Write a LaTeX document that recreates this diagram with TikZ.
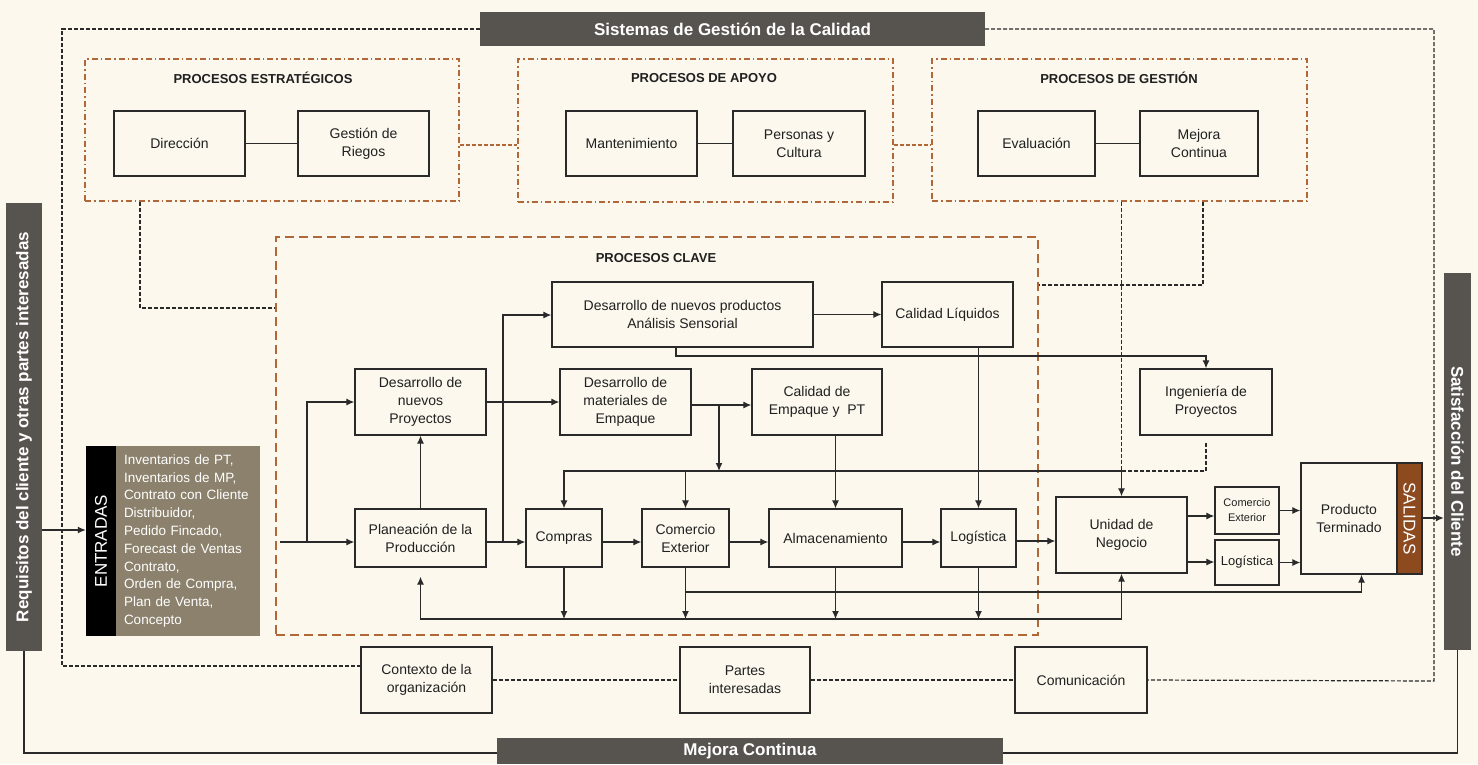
\documentclass[tikz,border=0pt]{standalone}
\usepackage{fontspec}
\setmainfont{Liberation Sans}
\usetikzlibrary{arrows.meta,calc}

\definecolor{fondo}{HTML}{FCF8EE}
\definecolor{barra}{HTML}{575450}
\definecolor{taupe}{HTML}{8B816C}
\definecolor{salida}{HTML}{8C4A1E}
\definecolor{naranja}{HTML}{B06838}
\definecolor{linea}{HTML}{2A2A2A}
\definecolor{texto}{HTML}{202020}

\begin{document}
\begin{tikzpicture}[x=1pt,y=-1pt]
	\tikzstyle{caja}=[draw=linea,line width=1.3pt,align=center,text=texto,inner sep=1pt,font=\fontsize{14}{18}\selectfont]
	\tikzstyle{barra}=[fill=barra,text=white,inner sep=0pt,font=\bfseries\fontsize{17}{20}\selectfont]
	\tikzstyle{marco}=[draw=naranja,line width=1.3pt,dash pattern=on 6pt off 3pt on 1.5pt off 3pt,inner sep=0pt]
	\tikzstyle{encabezado}=[text=texto,font=\bfseries\fontsize{13}{16}\selectfont]
	\tikzstyle{flecha}=[draw=linea,line width=1.2pt,-{Latex[length=8pt,width=7pt]}]
	\tikzstyle{solida}=[draw=linea,line width=1.2pt]
	\tikzstyle{punteado}=[draw=linea,line width=1.2pt,dash pattern=on 4pt off 2pt]
	\tikzstyle{enlace}=[draw=naranja,line width=1.3pt,dash pattern=on 4pt off 2pt]
	\path[use as bounding box,fill=fondo] (0,0) rectangle (1478,764);

	% barras del sistema
	\node[barra,minimum width=505pt,minimum height=34pt] (sgc) at (732.5,29) {Sistemas de Gestión de la Calidad};
	\node[barra,minimum width=36pt,minimum height=448pt] (req) at (24,427) {\rotatebox{90}{Requisitos del cliente y otras partes interesadas}};
	\node[barra,minimum width=27pt,minimum height=377pt] (sat) at (1457.5,461.5) {\rotatebox{-90}{Satisfacción del Cliente}};
	\node[barra,minimum width=506pt,minimum height=26pt] (mej) at (750,751) {Mejora Continua};

	% marcos
	\node[marco,minimum width=374pt,minimum height=142pt] (fest) at (272,130) {};
	\node[marco,minimum width=375pt,minimum height=143pt] (fapo) at (705.5,130.5) {};
	\node[marco,minimum width=375pt,minimum height=142pt] (fges) at (1119.5,130) {};
	\node[draw=naranja,line width=1.4pt,dash pattern=on 9pt off 5pt,minimum width=762pt,minimum height=398pt] (fcla) at (657,436) {};
	\node[encabezado] (test) at (263,78) {PROCESOS ESTRATÉGICOS};
	\node[encabezado] (tapo) at (704,78) {PROCESOS DE APOYO};
	\node[encabezado] (tges) at (1119,78) {PROCESOS DE GESTIÓN};
	\node[encabezado] (tcla) at (656,258) {PROCESOS CLAVE};

	% procesos estrategicos, de apoyo y de gestion
	\node[caja,minimum width=131pt,minimum height=65pt] (dir) at (179.5,143.5) {Dirección};
	\node[caja,minimum width=131pt,minimum height=65pt] (ries) at (363.5,143.5) {Gestión de\\Riegos};
	\node[caja,minimum width=131pt,minimum height=65pt] (man) at (631.5,143.5) {Mantenimiento};
	\node[caja,minimum width=132pt,minimum height=65pt] (per) at (799,143.5) {Personas y\\Cultura};
	\node[caja,minimum width=117pt,minimum height=65pt] (eva) at (1036.5,143.5) {Evaluación};
	\node[caja,minimum width=118pt,minimum height=65pt] (mcon) at (1199,143.5) {Mejora\\Continua};

	% procesos clave
	\node[caja,minimum width=261pt,minimum height=65pt] (dnp) at (682.5,314.5) {Desarrollo de nuevos productos\\Análisis Sensorial};
	\node[caja,minimum width=131pt,minimum height=65pt] (cliq) at (947.5,314.5) {Calidad Líquidos};
	\node[caja,minimum width=131pt,minimum height=66pt] (dnpy) at (420.5,402) {Desarrollo de\\nuevos\\Proyectos};
	\node[caja,minimum width=131pt,minimum height=66pt] (dme) at (625.5,402) {Desarrollo de\\materiales de\\Empaque};
	\node[caja,minimum width=130pt,minimum height=66pt] (cemp) at (817,402) {Calidad de\\Empaque y\ \ PT};
	\node[caja,minimum width=132pt,minimum height=66pt] (ing) at (1206,402) {Ingeniería de\\Proyectos};
	\node[caja,minimum width=131pt,minimum height=58pt] (plan) at (420.5,538) {Planeación de la\\Producción};
	\node[caja,minimum width=76pt,minimum height=58pt] (comp) at (564,538) {Compras};
	\node[caja,minimum width=87pt,minimum height=58pt] (cext) at (685.5,538) {Comercio\\Exterior};
	\node[caja,minimum width=133pt,minimum height=58pt] (alm) at (835.5,538) {Almacenamiento};
	\node[caja,minimum width=75pt,minimum height=58pt] (log) at (978.5,538) {Logística};
	\node[caja,minimum width=131pt,minimum height=76pt] (uni) at (1121.5,535) {Unidad de\\Negocio};
	\node[caja,minimum width=64pt,minimum height=47pt,font=\fontsize{11}{15}\selectfont] (cx2) at (1247,510.5) {Comercio\\Exterior};
	\node[caja,minimum width=64pt,minimum height=45pt,font=\fontsize{13}{16}\selectfont] (lg2) at (1247,562.5) {Logística};
	\node[caja,minimum width=96pt,minimum height=111pt] (pt) at (1349,518.5) {Producto\\Terminado};
	\node[draw=linea,line width=1.3pt,fill=salida,text=white,inner sep=0pt,minimum width=25pt,minimum height=111pt,font=\fontsize{17}{20}\selectfont] (sal) at (1409.5,518.5) {\rotatebox{-90}{SALIDAS}};

	% entradas
	\node[fill=black,text=white,inner sep=0pt,minimum width=30pt,minimum height=190pt,font=\fontsize{17}{20}\selectfont] (ent) at (101,541) {\rotatebox{90}{ENTRADAS}};
	\node[fill=taupe,text=white,inner sep=0pt,minimum width=144pt,minimum height=190pt,text width=128pt,align=left,font=\fontsize{13.5}{17.8}\selectfont] (lst) at (188,541) {Inventarios de PT,\\Inventarios de MP,\\Contrato con Cliente\\Distribuidor,\\Pedido Fincado,\\Forecast de Ventas\\Contrato,\\Orden de Compra,\\Plan de Venta,\\Concepto};

	% contexto
	\node[caja,minimum width=131pt,minimum height=66pt] (ctx) at (426.5,680) {Contexto de la\\organización};
	\node[caja,minimum width=130pt,minimum height=66pt] (par) at (745,680) {Partes\\interesadas};
	\node[caja,minimum width=132pt,minimum height=66pt] (com) at (1081,680) {Comunicación};

	% uniones
	\draw[solida] (dir) -- (ries);
	\draw[solida] (man) -- (per);
	\draw[solida] (eva) -- (mcon);
	\draw[enlace] (fest.east |- 0,145) -- (fapo.west |- 0,145);
	\draw[enlace] (fapo.east |- 0,145) -- (fges.west |- 0,145);

	% lineas punteadas
	\draw[punteado] (sgc.west) -- (62,29) -- (62,666) -- (ctx.west |- 0,666);
	\draw[punteado] (sgc.east) -- (1434,29) -- (1434,681) -- (com.east);
	\draw[punteado] (ctx.east) -- (par.west);
	\draw[punteado] (par.east) -- (com.west);
	\draw[punteado] (fest.south -| 140,0) -- (140,308) -- (fcla.west |- 0,308);
	\draw[punteado] (fges.south -| 1203,0) -- (1203,285) -- (fcla.east |- 0,285);
	\draw[punteado] (fges.south -| uni.north) -- (uni.north |- 0,471);
	\draw[punteado,shorten <=7pt] (ing.south) -- (ing.south |- 0,471) -- (uni.north |- 0,471);

	% flujo principal
	\draw[flecha] (280,542) -- (plan.west |- 0,542);
	\draw[flecha] (307,542) -- (307,402) -- (dnpy.west);
	\draw[flecha] (plan.north) -- (dnpy.south);
	\draw[flecha] (plan.east |- 0,542) -- (comp.west |- 0,542);
	\draw[flecha] (503,542) -- (503,315) -- (dnp.west |- 0,315);
	\draw[flecha] (dnpy.east) -- (dme.west);
	\draw[flecha] (dnp.east) -- (cliq.west);
	\draw[flecha] (dnp.south -| 676,0) -- (676,356) -- (ing.north |- 0,356) -- (ing.north);
	\draw[flecha] (dme.east |- 0,405) -- (cemp.west |- 0,405);
	\draw[flecha] (719,405) -- (719,471);
	\draw[flecha] (uni.north |- 0,471) -- (comp.north |- 0,471) -- (comp.north);
	\draw[flecha] (cext.north |- 0,471) -- (cext.north);
	\draw[flecha] (uni.north |- 0,471) -- (uni.north);
	\draw[flecha] (alm.north |- cemp.south) -- (alm.north);
	\draw[flecha] (log.north |- cliq.south) -- (log.north);
	\draw[flecha] (comp.east |- 0,542) -- (cext.west |- 0,542);
	\draw[flecha] (cext.east |- 0,542) -- (alm.west |- 0,542);
	\draw[flecha] (alm.east |- 0,542) -- (log.west |- 0,542);
	\draw[flecha] (log.east |- 0,541) -- (uni.west |- 0,541);

	% retorno
	\draw[flecha] (comp.south) -- (comp.south |- 0,619);
	\draw[flecha] (cext.south) -- (cext.south |- 0,619);
	\draw[flecha] (alm.south) -- (alm.south |- 0,619);
	\draw[flecha] (log.south) -- (log.south |- 0,619);
	\draw[flecha,shorten >=9pt] (uni.south |- 0,619) -- (plan.south |- 0,619) -- (plan.south);
	\draw[flecha] (uni.south |- 0,619) -- (uni.south);
	\coordinate (ptb) at ($(pt.south west)!.5!(sal.south east)$);
	\draw[flecha] (cext.south |- 0,592) -- (ptb |- 0,592) -- (ptb);

	% salidas
	\draw[flecha] (uni.east |- 0,516) -- (cx2.west |- 0,516);
	\draw[flecha] (uni.east |- 0,562) -- (lg2.west |- 0,562);
	\draw[flecha] (cx2.east) -- (pt.west |- cx2.east);
	\draw[flecha] (lg2.east) -- (pt.west |- lg2.east);
	\draw[flecha] (sal.east |- 0,518) -- (sat.west |- 0,518);
	\draw[flecha] (req.east |- 0,530) -- (ent.west |- 0,530);
	\draw[solida] (req.south) -- (req.south |- 0,753) -- (mej.west |- 0,753);
	\draw[solida] (mej.east |- 0,753) -- (sat.south |- 0,753) -- (sat.south);
\end{tikzpicture}
\end{document}
